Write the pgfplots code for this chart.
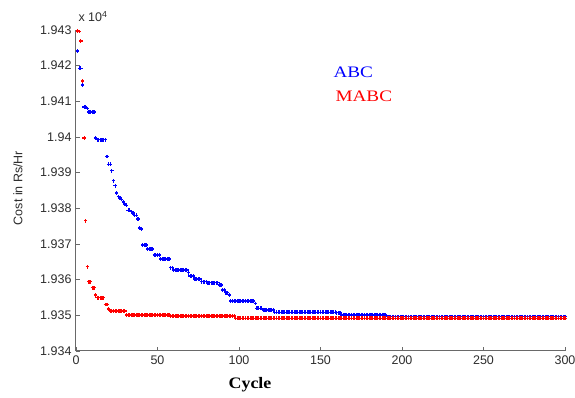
\documentclass[border=0pt]{standalone}
\usepackage{graphicx}
\usepackage{fontspec}
\setmainfont{Liberation Sans}
\newfontfamily\seriffont{Liberation Serif}
\usepackage{pgfplots}
\pgfplotsset{compat=1.18}
\definecolor{axisgray}{RGB}{105,105,105}
\definecolor{labelcol}{RGB}{45,45,45}
\begin{document}
\begin{tikzpicture}
\useasboundingbox (-76pt,-47pt) rectangle (499pt,351pt);
\begin{axis}[
  scale only axis, width=489pt, height=321pt,
  xmin=0, xmax=300, ymin=1.934, ymax=1.943,
  axis lines=left,
  axis line style={-, draw=axisgray, line width=1pt},
  tick style={draw=axisgray, line width=0.8pt},
  tick align=inside, major tick length=4pt,
  xtick={0,50,100,150,200,250,300},
  ytick={1.934,1.935,1.936,1.937,1.938,1.939,1.94,1.941,1.942,1.943},
  yticklabels={1.934,1.935,1.936,1.937,1.938,1.939,1.94,1.941,1.942,1.943},
  /pgf/number format/assume math mode=true,
  ticklabel style={font=\fontsize{12.5}{13}\selectfont, text=labelcol},
  xticklabel style={yshift=-1pt},
  yticklabel style={xshift=-1pt},
  clip=false,
]
\addplot[only marks, mark=+, mark size=1.7pt, color=blue, mark options={line width=1.2pt}] coordinates {
(1,1.94241)(2,1.94193)(3,1.94193)(4,1.94146)(5,1.94084)(6,1.94084)(7,1.94080)(8,1.94070)(9,1.94070)(10,1.94070)
(11,1.94070)(12,1.93997)(13,1.93992)(14,1.93992)(15,1.93992)(16,1.93992)(17,1.93992)(18,1.93992)(19,1.93945)(20,1.93924)
(21,1.93924)(22,1.93905)(23,1.93877)(24,1.93863)(25,1.93843)(26,1.93833)(27,1.93829)(28,1.93825)(29,1.93818)(30,1.93812)
(31,1.93809)(32,1.93795)(33,1.93795)(34,1.93790)(35,1.93787)(36,1.93781)(37,1.93781)(38,1.93770)(39,1.93745)(40,1.93742)
(41,1.93697)(42,1.93697)(43,1.93697)(44,1.93686)(45,1.93686)(46,1.93686)(47,1.93686)(48,1.93669)(49,1.93669)(50,1.93669)
(51,1.93669)(52,1.93658)(53,1.93658)(54,1.93658)(55,1.93658)(56,1.93658)(57,1.93658)(58,1.93633)(59,1.93633)(60,1.93627)
(61,1.93627)(62,1.93627)(63,1.93627)(64,1.93627)(65,1.93627)(66,1.93627)(67,1.93627)(68,1.93627)(69,1.93619)(70,1.93610)
(71,1.93610)(72,1.93610)(73,1.93602)(74,1.93602)(75,1.93602)(76,1.93602)(77,1.93594)(78,1.93594)(79,1.93594)(80,1.93594)
(81,1.93591)(82,1.93591)(83,1.93591)(84,1.93591)(85,1.93591)(86,1.93591)(87,1.93591)(88,1.93585)(89,1.93585)(90,1.93571)
(91,1.93571)(92,1.93563)(93,1.93563)(94,1.93557)(95,1.93540)(96,1.93540)(97,1.93540)(98,1.93540)(99,1.93540)(100,1.93540)
(101,1.93540)(102,1.93540)(103,1.93540)(104,1.93540)(105,1.93540)(106,1.93540)(107,1.93540)(108,1.93540)(109,1.93540)(110,1.93534)
(111,1.93520)(112,1.93520)(113,1.93520)(114,1.93520)(115,1.93515)(116,1.93515)(117,1.93515)(118,1.93515)(119,1.93515)(120,1.93515)
(121,1.93515)(122,1.93509)(123,1.93509)(124,1.93509)(125,1.93509)(126,1.93509)(127,1.93509)(128,1.93509)(129,1.93509)(130,1.93509)
(131,1.93509)(132,1.93509)(133,1.93509)(134,1.93509)(135,1.93509)(136,1.93509)(137,1.93509)(138,1.93509)(139,1.93509)(140,1.93509)
(141,1.93509)(142,1.93509)(143,1.93509)(144,1.93509)(145,1.93509)(146,1.93509)(147,1.93509)(148,1.93509)(149,1.93509)(150,1.93509)
(151,1.93509)(152,1.93509)(153,1.93509)(154,1.93509)(155,1.93509)(156,1.93509)(157,1.93509)(158,1.93509)(159,1.93509)(160,1.93507)
(161,1.93507)(162,1.93507)(163,1.93501)(164,1.93501)(165,1.93501)(166,1.93501)(167,1.93501)(168,1.93501)(169,1.93501)(170,1.93501)
(171,1.93501)(172,1.93501)(173,1.93501)(174,1.93501)(175,1.93501)(176,1.93501)(177,1.93501)(178,1.93501)(179,1.93501)(180,1.93501)
(181,1.93501)(182,1.93501)(183,1.93501)(184,1.93501)(185,1.93501)(186,1.93501)(187,1.93501)(188,1.93501)(189,1.93501)(190,1.93501)
(191,1.93496)(192,1.93496)(193,1.93496)(194,1.93496)(195,1.93496)(196,1.93496)(197,1.93496)(198,1.93496)(199,1.93496)(200,1.93496)
(201,1.93496)(202,1.93496)(203,1.93496)(204,1.93496)(205,1.93496)(206,1.93496)(207,1.93496)(208,1.93496)(209,1.93496)(210,1.93496)
(211,1.93496)(212,1.93496)(213,1.93496)(214,1.93496)(215,1.93496)(216,1.93496)(217,1.93496)(218,1.93496)(219,1.93496)(220,1.93496)
(221,1.93496)(222,1.93496)(223,1.93496)(224,1.93496)(225,1.93496)(226,1.93496)(227,1.93496)(228,1.93496)(229,1.93496)(230,1.93496)
(231,1.93496)(232,1.93496)(233,1.93496)(234,1.93496)(235,1.93496)(236,1.93496)(237,1.93496)(238,1.93496)(239,1.93496)(240,1.93496)
(241,1.93496)(242,1.93496)(243,1.93496)(244,1.93496)(245,1.93496)(246,1.93496)(247,1.93496)(248,1.93496)(249,1.93496)(250,1.93496)
(251,1.93496)(252,1.93496)(253,1.93496)(254,1.93496)(255,1.93496)(256,1.93496)(257,1.93496)(258,1.93496)(259,1.93496)(260,1.93496)
(261,1.93496)(262,1.93496)(263,1.93496)(264,1.93496)(265,1.93496)(266,1.93496)(267,1.93496)(268,1.93496)(269,1.93496)(270,1.93496)
(271,1.93496)(272,1.93496)(273,1.93496)(274,1.93496)(275,1.93496)(276,1.93496)(277,1.93496)(278,1.93496)(279,1.93496)(280,1.93496)
(281,1.93496)(282,1.93496)(283,1.93496)(284,1.93496)(285,1.93496)(286,1.93496)(287,1.93496)(288,1.93496)(289,1.93496)(290,1.93496)
(291,1.93496)(292,1.93496)(293,1.93496)(294,1.93496)(295,1.93496)(296,1.93496)(297,1.93496)(298,1.93496)(299,1.93496)(300,1.93496)
};
\addplot[only marks, mark=+, mark size=1.7pt, color=red, mark options={line width=1.2pt}] coordinates {
(1,1.94297)(2,1.94295)(3,1.94269)(4,1.94157)(5,1.93997)(6,1.93765)(7,1.93636)(8,1.93594)(9,1.93594)(10,1.93577)
(11,1.93577)(12,1.93557)(13,1.93549)(14,1.93549)(15,1.93549)(16,1.93549)(17,1.93549)(18,1.93530)(19,1.93530)(20,1.93518)
(21,1.93512)(22,1.93512)(23,1.93512)(24,1.93512)(25,1.93512)(26,1.93512)(27,1.93512)(28,1.93512)(29,1.93512)(30,1.93512)
(31,1.93501)(32,1.93501)(33,1.93501)(34,1.93501)(35,1.93501)(36,1.93501)(37,1.93501)(38,1.93501)(39,1.93501)(40,1.93501)
(41,1.93501)(42,1.93501)(43,1.93501)(44,1.93501)(45,1.93501)(46,1.93501)(47,1.93501)(48,1.93501)(49,1.93501)(50,1.93501)
(51,1.93501)(52,1.93501)(53,1.93501)(54,1.93501)(55,1.93501)(56,1.93501)(57,1.93501)(58,1.93498)(59,1.93498)(60,1.93498)
(61,1.93498)(62,1.93498)(63,1.93498)(64,1.93498)(65,1.93498)(66,1.93498)(67,1.93498)(68,1.93498)(69,1.93498)(70,1.93498)
(71,1.93498)(72,1.93498)(73,1.93498)(74,1.93498)(75,1.93498)(76,1.93498)(77,1.93498)(78,1.93498)(79,1.93498)(80,1.93498)
(81,1.93498)(82,1.93498)(83,1.93498)(84,1.93498)(85,1.93498)(86,1.93498)(87,1.93498)(88,1.93498)(89,1.93498)(90,1.93498)
(91,1.93498)(92,1.93498)(93,1.93498)(94,1.93498)(95,1.93498)(96,1.93498)(97,1.93498)(98,1.93492)(99,1.93492)(100,1.93492)
(101,1.93492)(102,1.93492)(103,1.93492)(104,1.93492)(105,1.93492)(106,1.93492)(107,1.93492)(108,1.93492)(109,1.93492)(110,1.93492)
(111,1.93492)(112,1.93492)(113,1.93492)(114,1.93492)(115,1.93492)(116,1.93492)(117,1.93492)(118,1.93492)(119,1.93492)(120,1.93492)
(121,1.93492)(122,1.93492)(123,1.93492)(124,1.93492)(125,1.93492)(126,1.93492)(127,1.93492)(128,1.93492)(129,1.93492)(130,1.93492)
(131,1.93492)(132,1.93492)(133,1.93492)(134,1.93492)(135,1.93492)(136,1.93492)(137,1.93492)(138,1.93492)(139,1.93492)(140,1.93492)
(141,1.93492)(142,1.93492)(143,1.93492)(144,1.93492)(145,1.93492)(146,1.93492)(147,1.93492)(148,1.93492)(149,1.93492)(150,1.93492)
(151,1.93492)(152,1.93492)(153,1.93492)(154,1.93492)(155,1.93492)(156,1.93492)(157,1.93492)(158,1.93492)(159,1.93492)(160,1.93492)
(161,1.93492)(162,1.93492)(163,1.93492)(164,1.93492)(165,1.93492)(166,1.93492)(167,1.93492)(168,1.93492)(169,1.93492)(170,1.93492)
(171,1.93492)(172,1.93492)(173,1.93492)(174,1.93492)(175,1.93492)(176,1.93492)(177,1.93492)(178,1.93492)(179,1.93492)(180,1.93492)
(181,1.93492)(182,1.93492)(183,1.93492)(184,1.93492)(185,1.93492)(186,1.93492)(187,1.93492)(188,1.93492)(189,1.93492)(190,1.93492)
(191,1.93492)(192,1.93492)(193,1.93492)(194,1.93492)(195,1.93492)(196,1.93492)(197,1.93492)(198,1.93492)(199,1.93492)(200,1.93492)
(201,1.93492)(202,1.93492)(203,1.93492)(204,1.93492)(205,1.93492)(206,1.93492)(207,1.93492)(208,1.93492)(209,1.93492)(210,1.93492)
(211,1.93492)(212,1.93492)(213,1.93492)(214,1.93492)(215,1.93492)(216,1.93492)(217,1.93492)(218,1.93492)(219,1.93492)(220,1.93492)
(221,1.93492)(222,1.93492)(223,1.93492)(224,1.93492)(225,1.93492)(226,1.93492)(227,1.93492)(228,1.93492)(229,1.93492)(230,1.93492)
(231,1.93492)(232,1.93492)(233,1.93492)(234,1.93492)(235,1.93492)(236,1.93492)(237,1.93492)(238,1.93492)(239,1.93492)(240,1.93492)
(241,1.93492)(242,1.93492)(243,1.93492)(244,1.93492)(245,1.93492)(246,1.93492)(247,1.93492)(248,1.93492)(249,1.93492)(250,1.93492)
(251,1.93492)(252,1.93492)(253,1.93492)(254,1.93492)(255,1.93492)(256,1.93492)(257,1.93492)(258,1.93492)(259,1.93492)(260,1.93492)
(261,1.93492)(262,1.93492)(263,1.93492)(264,1.93492)(265,1.93492)(266,1.93492)(267,1.93492)(268,1.93492)(269,1.93492)(270,1.93492)
(271,1.93492)(272,1.93492)(273,1.93492)(274,1.93492)(275,1.93492)(276,1.93492)(277,1.93492)(278,1.93492)(279,1.93492)(280,1.93492)
(281,1.93492)(282,1.93492)(283,1.93492)(284,1.93492)(285,1.93492)(286,1.93492)(287,1.93492)(288,1.93492)(289,1.93492)(290,1.93492)
(291,1.93492)(292,1.93492)(293,1.93492)(294,1.93492)(295,1.93492)(296,1.93492)(297,1.93492)(298,1.93492)(299,1.93492)(300,1.93492)
};
\end{axis}
\node[anchor=base west, text=labelcol, font=\fontsize{12.5}{13}\selectfont] at (-1pt,329pt) {x 10\textsuperscript{4}};
\node[rotate=90, text=labelcol, font=\fontsize{12.5}{13}\selectfont] at (-58pt,163pt) {Cost in Rs/Hr};
\node[font=\seriffont\bfseries\fontsize{16}{17}\selectfont] at (174pt,-34pt) {\scalebox{1.12}[1]{Cycle}};
\node[anchor=west, text=blue, font=\seriffont\fontsize{16}{17}\selectfont] at (254pt,279pt) {\scalebox{1.2}[1]{ABC}};
\node[anchor=west, text=red, font=\seriffont\fontsize{16}{17}\selectfont] at (256pt,255pt) {\scalebox{1.2}[1]{MABC}};
\end{tikzpicture}
\end{document}
